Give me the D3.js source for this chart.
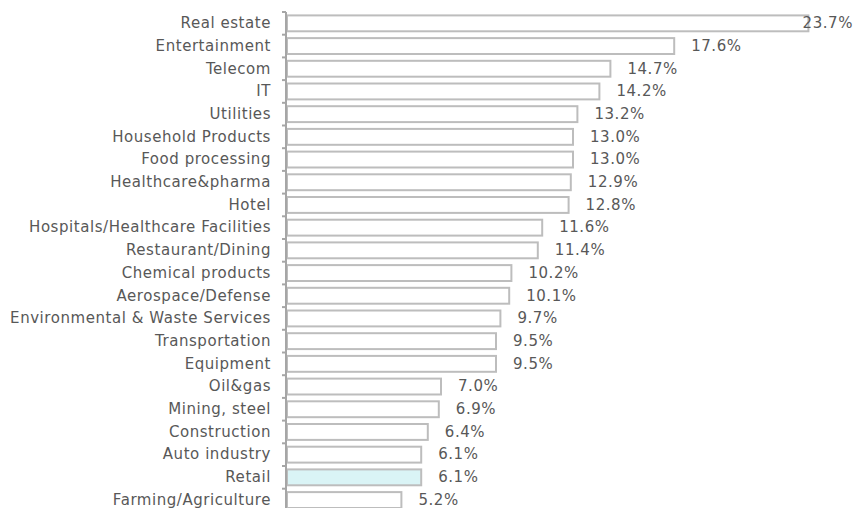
<!DOCTYPE html>
<html>
<head>
<meta charset="utf-8">
<script src="https://cdn.jsdelivr.net/npm/d3@7"></script>
<style>
  body { margin: 0; background: #fff; }
  svg text { font-family: "DejaVu Sans", Verdana, sans-serif; font-size: 15px; letter-spacing: 0.55px; fill: #585858; }
</style>
</head>
<body>
<svg class="chart"></svg>
<script>
var sectors = ['Real estate', 'Entertainment', 'Telecom', 'IT', 'Utilities', 'Household Products',
    'Food processing', 'Healthcare&pharma', 'Hotel', 'Hospitals/Healthcare Facilities',
    'Restaurant/Dining', 'Chemical products', 'Aerospace/Defense', 'Environmental & Waste Services',
    'Transportation', 'Equipment', 'Oil&gas', 'Mining, steel', 'Construction', 'Auto industry',
    'Retail', 'Farming/Agriculture'];
var shares = [23.7, 17.6, 14.7, 14.2, 13.2, 13.0, 13.0, 12.9, 12.8, 11.6, 11.4, 10.2, 10.1, 9.7,
    9.5, 9.5, 7.0, 6.9, 6.4, 6.1, 6.1, 5.2];
var highlighted = ['Retail'];

var width = 858, height = 508;
var axisX = 286, axisTop = 12;

var chart = d3.select('.chart')
    .attr('width', width)
    .attr('height', height);

var y = d3.scaleBand()
    .domain(sectors)
    .range([axisTop, axisTop + 22.7 * sectors.length])
    .paddingInner(0.3)
    .paddingOuter(0.15);

var x = d3.scaleLinear()
    .domain([0, 25])
    .range([axisX + 1, axisX + 1 + 550]);

var data = sectors.map(function(s, i) { return { name: s, value: shares[i] }; });

chart.selectAll('rect.bar')
    .data(data)
    .enter().append('rect')
    .attr('class', 'bar')
    .attr('x', x(0))
    .attr('y', function(d) { return y(d.name); })
    .attr('width', function(d) { return x(d.value) - x(0); })
    .attr('height', y.bandwidth())
    .attr('fill', function(d) { return highlighted.indexOf(d.name) >= 0 ? '#daf4f6' : '#fff'; })
    .attr('stroke', '#bdbdbd')
    .attr('stroke-width', 2);

// value labels, pushed back inside the frame when they would run off
function runsOff(d) { return x(d.value) + 17 + 55 > width; }
chart.selectAll('text.val')
    .data(data)
    .enter().append('text')
    .attr('class', 'val')
    .attr('x', function(d) { return runsOff(d) ? width - 5 : x(d.value) + 17; })
    .attr('text-anchor', function(d) { return runsOff(d) ? 'end' : 'start'; })
    .attr('y', function(d) { return y(d.name) + y.bandwidth() / 2; })
    .attr('dy', '0.32em')
    .text(function(d) { return d3.format('.1f')(d.value) + '%'; });

// category axis: labels plus ticks at the band boundaries
var axis = chart.append('g');
axis.append('line')
    .attr('x1', axisX).attr('x2', axisX)
    .attr('y1', y.range()[0]).attr('y2', y.range()[1])
    .attr('stroke', '#a6a6a6').attr('stroke-width', 2);

var bounds = sectors.map(function(s) { return y(s) - y.step() * y.paddingInner() / 2; });
bounds.push(y.range()[1]);
axis.selectAll('line.tick')
    .data(bounds)
    .enter().append('line')
    .attr('class', 'tick')
    .attr('x1', axisX - 4).attr('x2', axisX)
    .attr('y1', function(d) { return d; }).attr('y2', function(d) { return d; })
    .attr('stroke', '#a6a6a6').attr('stroke-width', 2);

axis.selectAll('text')
    .data(sectors)
    .enter().append('text')
    .attr('x', 271)
    .attr('y', function(d) { return y(d) + y.bandwidth() / 2; })
    .attr('dy', '0.32em')
    .attr('text-anchor', 'end')
    .text(function(d) { return d; });
</script>
</body>
</html>
